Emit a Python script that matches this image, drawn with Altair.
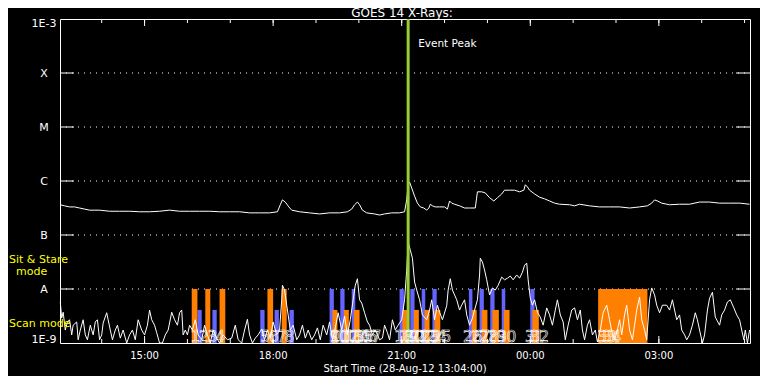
import altair as alt
import pandas as pd

# ---------------- data (time = minutes after 13:00 UT, 28-Aug-2012) ----------------
x_start, x_end = 1.6, 967.6
x_tick_vals = [120, 300, 480, 660, 840]
x_tick_labels = ["15:00", "18:00", "21:00", "00:00", "03:00"]
x_minor_vals = [60, 120, 180, 240, 300, 360, 420, 480, 540, 600, 660, 720, 780, 840, 900, 960]
x_title = "Start Time (28-Aug-12 13:04:00)"
chart_title = "GOES 14 X-Rays:"

y_min, y_max = 1e-9, 1e-3
y_mid_vals = [1e-8, 1e-7, 1e-6, 1e-5, 1e-4]
y_mid_labels = ["A", "B", "C", "M", "X"]
y_bottom_label = "1E-9"
y_top_label = "1E-3"

# GOES 1-8 A channel (log10 W/m^2)
long_t = [2, 8, 15, 22, 29, 36, 43, 50, 57, 71,
          85, 99, 113, 127, 141, 155, 169, 183, 197, 211,
          225, 239, 253, 267, 281, 295, 306, 310, 313, 317,
          322, 326, 337, 351, 365, 379, 393, 404, 410, 414,
          418, 421, 425, 431, 442, 449, 456, 466, 477, 484,
          487, 489, 491, 494, 498, 502, 506, 511, 515, 518,
          520, 523, 527, 533, 540, 544, 547, 550, 554, 561,
          568, 575, 583, 586, 592, 597, 603, 609, 614, 620,
          624, 631, 638, 645, 651, 653, 656, 659, 666, 673,
          680, 687, 694, 701, 715, 722, 729, 743, 757, 771,
          785, 799, 813, 824, 830, 834, 838, 844, 855, 869,
          883, 897, 911, 925, 939, 953, 967]
long_log = [-6.44, -6.46, -6.48, -6.48, -6.50, -6.52, -6.54, -6.54, -6.54, -6.56,
            -6.56, -6.56, -6.57, -6.57, -6.56, -6.54, -6.56, -6.56, -6.56, -6.56,
            -6.57, -6.57, -6.57, -6.59, -6.59, -6.59, -6.57, -6.44, -6.35, -6.39,
            -6.48, -6.54, -6.57, -6.59, -6.61, -6.59, -6.59, -6.57, -6.52, -6.44,
            -6.39, -6.44, -6.54, -6.59, -6.61, -6.63, -6.61, -6.59, -6.59, -6.57,
            -6.35, -6.07, -6.02, -6.13, -6.28, -6.41, -6.48, -6.50, -6.54, -6.50,
            -6.43, -6.46, -6.48, -6.48, -6.48, -6.52, -6.37, -6.41, -6.43, -6.46,
            -6.50, -6.50, -6.50, -6.20, -6.20, -6.22, -6.31, -6.37, -6.31, -6.24,
            -6.17, -6.17, -6.17, -6.20, -6.17, -6.07, -6.11, -6.17, -6.24, -6.30,
            -6.33, -6.37, -6.41, -6.43, -6.44, -6.46, -6.43, -6.46, -6.48, -6.48,
            -6.48, -6.50, -6.48, -6.46, -6.41, -6.35, -6.37, -6.41, -6.44, -6.43,
            -6.43, -6.39, -6.39, -6.41, -6.41, -6.41, -6.43]

# GOES 0.5-4 A channel (log10 W/m^2)
short_t = [2, 4, 6, 9, 12, 15, 18, 20, 25, 27,
           30, 34, 37, 40, 44, 48, 51, 54, 57, 60,
           62, 67, 69, 72, 75, 79, 82, 86, 90, 95,
           99, 103, 107, 111, 116, 120, 124, 127, 130, 134,
           137, 141, 145, 149, 153, 158, 162, 166, 169, 172,
           174, 177, 180, 183, 187, 191, 195, 200, 204, 208,
           212, 216, 221, 225, 230, 236, 242, 247, 251, 256,
           260, 264, 267, 271, 275, 279, 284, 288, 292, 296,
           300, 305, 309, 312, 313, 316, 319, 321, 324, 328,
           333, 337, 341, 345, 349, 354, 358, 362, 366, 370,
           375, 379, 383, 387, 391, 396, 400, 404, 408, 412,
           415, 418, 421, 424, 428, 432, 435, 439, 443, 449,
           453, 456, 460, 463, 467, 471, 475, 480, 484, 487,
           489, 492, 495, 498, 501, 505, 509, 515, 519, 522,
           526, 530, 533, 537, 543, 545, 548, 551, 554, 557,
           561, 564, 568, 571, 575, 579, 582, 586, 589, 590,
           593, 596, 599, 603, 607, 611, 615, 620, 624, 628,
           632, 636, 641, 645, 649, 652, 655, 657, 660, 663,
           666, 670, 674, 678, 683, 687, 691, 695, 698, 702,
           706, 709, 713, 718, 722, 726, 730, 733, 736, 740,
           743, 747, 751, 754, 758, 762, 767, 771, 775, 778,
           782, 785, 788, 792, 795, 799, 803, 806, 809, 813,
           816, 820, 823, 827, 830, 834, 837, 841, 845, 851,
           855, 859, 862, 865, 869, 872, 876, 879, 883, 887,
           891, 894, 897, 901, 904, 908, 911, 915, 919, 925,
           928, 932, 936, 940, 945, 949, 953, 956, 959, 961,
           964, 967]
short_log = [-8.24, -8.54, -8.43, -8.76, -8.61, -8.57, -8.85, -8.67, -8.61, -8.94,
             -8.76, -8.57, -8.85, -8.94, -8.67, -8.85, -8.61, -8.57, -8.94, -8.85,
             -8.63, -8.44, -8.57, -8.76, -8.94, -8.76, -8.67, -8.91, -8.76, -9.00,
             -8.85, -8.76, -8.94, -8.57, -8.76, -8.85, -8.67, -8.39, -8.57, -8.67,
             -8.81, -9.00, -9.00, -8.85, -8.76, -8.43, -8.57, -8.67, -8.44, -8.39,
             -8.85, -8.76, -8.85, -8.67, -8.76, -8.57, -8.85, -8.94, -8.67, -8.85,
             -9.00, -8.76, -8.91, -9.00, -8.85, -8.94, -8.91, -8.67, -8.94, -9.00,
             -8.76, -8.56, -8.85, -9.00, -8.91, -8.85, -8.74, -8.94, -8.76, -8.91,
             -8.61, -8.85, -8.76, -8.20, -7.93, -8.02, -8.30, -8.48, -8.76, -8.67,
             -8.94, -8.85, -8.67, -8.91, -8.76, -8.94, -8.85, -8.72, -8.94, -8.67,
             -8.85, -8.61, -8.94, -8.72, -8.44, -8.76, -8.50, -8.85, -8.57, -8.20,
             -7.93, -7.81, -8.20, -8.26, -8.44, -8.61, -8.67, -8.85, -8.76, -8.94,
             -8.91, -8.67, -8.81, -8.94, -8.57, -8.76, -8.67, -8.57, -8.20, -7.65,
             -7.13, -7.28, -7.43, -7.87, -8.02, -8.20, -8.48, -8.57, -8.39, -8.20,
             -8.57, -8.30, -8.43, -8.57, -8.31, -8.02, -7.81, -8.02, -8.11, -8.20,
             -8.39, -8.30, -8.20, -8.48, -8.67, -8.54, -8.39, -8.20, -7.74, -7.43,
             -7.50, -7.65, -7.83, -8.11, -7.98, -8.02, -7.93, -7.78, -7.83, -7.80,
             -7.76, -7.83, -7.74, -7.80, -7.69, -7.56, -7.52, -7.83, -8.17, -8.30,
             -8.20, -8.43, -8.52, -8.67, -8.35, -8.48, -8.67, -8.39, -8.20, -8.48,
             -8.61, -8.94, -8.67, -8.39, -8.35, -8.57, -8.39, -8.76, -8.94, -8.67,
             -8.57, -8.85, -8.76, -8.98, -8.76, -8.44, -8.30, -8.57, -8.85, -8.94,
             -8.76, -8.57, -8.85, -8.48, -8.30, -8.76, -8.94, -8.67, -8.39, -8.15,
             -8.57, -8.76, -8.94, -8.20, -7.98, -8.11, -8.30, -8.44, -8.30, -8.30,
             -8.39, -8.20, -8.39, -8.57, -8.48, -8.76, -8.85, -8.94, -8.85, -8.67,
             -8.44, -8.57, -8.76, -9.00, -8.85, -8.39, -8.17, -8.06, -8.52, -8.67,
             -8.48, -8.39, -8.24, -8.20, -8.35, -8.48, -8.57, -8.76, -8.94, -8.76,
             -9.00, -8.76]

# observation bars (start/end minutes)
orange_tall_start = [186, 205, 225, 292, 312, 755]
orange_tall_end = [194, 212, 233, 300, 319, 824]
blue_short_start = [194, 215, 282, 302, 323]
blue_short_end = [200, 221, 288, 308, 329]
blue_tall_start = [379, 394, 410, 477, 492, 508, 523, 574, 589, 604, 620, 660]
blue_tall_end = [385, 400, 415, 483, 498, 513, 529, 579, 595, 610, 625, 666]
orange_short_start = [383, 399, 413, 481, 497, 512, 526, 578, 592, 607, 623, 663]
orange_short_end = [390, 406, 421, 488, 504, 519, 534, 585, 600, 616, 631, 672]
tall_top = 1e-8
short_top = 4.1e-9

obs_t = [191, 203, 215, 226, 289, 301, 312, 323,
         386, 393, 400, 407, 414, 421, 427, 432, 438,
         483, 490, 498, 505, 513, 520, 529, 536,
         579, 590, 602, 613, 627, 666, 673, 767, 774]
obs_txt = ["1", "2", "3", "4", "5", "6", "7", "8",
           "9", "10", "11", "12", "13", "14", "15", "16", "17",
           "18", "19", "20", "21", "22", "23", "24", "25",
           "26", "27", "28", "29", "30", "31", "32", "33", "34"]

event_t = 489
event_label = "Event Peak"
mode_labels = ["Sit & Stare", "mode", "Scan mode"]

# ---------------- chart ----------------
FONT = "DejaVu Sans"
W, H = 690, 324
X = alt.Scale(domain=[x_start, x_end], nice=False, zero=False)
Y = alt.Scale(type="log", domain=[y_min, y_max], nice=False)


def xq(field="t"):
    return alt.X(f"{field}:Q", scale=X, axis=None)


def yq(field):
    return alt.Y(f"{field}:Q", scale=Y, axis=None)


long_df = pd.DataFrame({"t": long_t, "flux": [10 ** v for v in long_log]})
short_df = pd.DataFrame({"t": short_t, "flux": [10 ** v for v in short_log]})


def bars(starts, ends, top, color):
    df = pd.DataFrame({"start": starts, "end": ends, "top": [top] * len(starts),
                       "base": [y_min] * len(starts)})
    return alt.Chart(df).mark_rect(color=color).encode(
        x=xq("start"), x2="end:Q", y=yq("top"), y2="base:Q")


blue_s = bars(blue_short_start, blue_short_end, short_top, "#6464ff")
blue_t = bars(blue_tall_start, blue_tall_end, tall_top, "#6464ff")
orange_t = bars(orange_tall_start, orange_tall_end, tall_top, "#ff8000")
orange_s = bars(orange_short_start, orange_short_end, short_top, "#ff8000")

# dotted grid + inward ticks
grid_df = pd.DataFrame({"v": y_mid_vals, "lab": y_mid_labels})
grid = alt.Chart(grid_df).mark_rule(color="white", strokeDash=[1, 5], strokeWidth=1).encode(
    y=yq("v"), x=alt.value(0), x2=alt.value(W))
ytl = alt.Chart(grid_df).mark_rule(color="white").encode(
    y=yq("v"), x=alt.value(0), x2=alt.value(14))
ytr = alt.Chart(grid_df).mark_rule(color="white").encode(
    y=yq("v"), x=alt.value(W - 14), x2=alt.value(W))

xminor_df = pd.DataFrame({"t": x_minor_vals})
xmajor_df = pd.DataFrame({"t": x_tick_vals, "lab": x_tick_labels})
xt_top_minor = alt.Chart(xminor_df).mark_rule(color="white").encode(
    x=xq(), y=alt.value(0), y2=alt.value(4))
xt_bot_minor = alt.Chart(xminor_df).mark_rule(color="white").encode(
    x=xq(), y=alt.value(H), y2=alt.value(H - 4))
xt_top_major = alt.Chart(xmajor_df).mark_rule(color="white").encode(
    x=xq(), y=alt.value(0), y2=alt.value(7))
xt_bot_major = alt.Chart(xmajor_df).mark_rule(color="white").encode(
    x=xq(), y=alt.value(H), y2=alt.value(H - 7))

# tick labels drawn through the scales
ylab_mid = alt.Chart(grid_df).mark_text(
    align="center", baseline="alphabetic", dy=4, color="white", font=FONT, fontSize=11).encode(
    y=yq("v"), x=alt.value(-16), text="lab:N")
yend_df = pd.DataFrame({"v": [y_min, y_max], "lab": [y_bottom_label, y_top_label]})
ylab_bot = alt.Chart(yend_df.iloc[[0]]).mark_text(
    align="center", baseline="alphabetic", dy=0, color="white", font=FONT, fontSize=11).encode(
    y=yq("v"), x=alt.value(-16), text="lab:N")
ylab_top = alt.Chart(yend_df.iloc[[1]]).mark_text(
    align="center", baseline="alphabetic", dy=8, color="white", font=FONT, fontSize=11).encode(
    y=yq("v"), x=alt.value(-16), text="lab:N")
xlab = alt.Chart(xmajor_df).mark_text(
    align="center", baseline="alphabetic", color="white", font=FONT, fontSize=10).encode(
    x=xq(), y=alt.value(H + 16), text="lab:N")

texts_df = pd.DataFrame({"lab": [x_title, chart_title]})
xtitle = alt.Chart(texts_df.iloc[[0]]).mark_text(
    align="center", baseline="alphabetic", color="white", font=FONT, fontSize=10).encode(
    x=alt.value(W / 2), y=alt.value(H + 29), text="lab:N")
ctitle = alt.Chart(texts_df.iloc[[1]]).mark_text(
    align="center", baseline="alphabetic", color="white", font=FONT, fontSize=12).encode(
    x=alt.value(342), y=alt.value(-2), text="lab:N")

long_line = alt.Chart(long_df).mark_line(color="white", strokeWidth=1).encode(
    x=xq(), y=yq("flux"))
short_line = alt.Chart(short_df).mark_line(color="white", strokeWidth=1).encode(
    x=xq(), y=yq("flux"))

obs_df = pd.DataFrame({"t": obs_t, "txt": obs_txt, "base": [y_min] * len(obs_t)})
obs_text = alt.Chart(obs_df).mark_text(
    align="center", baseline="alphabetic", dy=-1, font=FONT, fontSize=15,
    fillOpacity=0, stroke="white", strokeWidth=0.6).encode(
    x=xq(), y=yq("base"), text="txt:N")

ev_df = pd.DataFrame({"t": [event_t], "label": [event_label]})
ev_rule = alt.Chart(ev_df).mark_rule(color="#9acd32", strokeWidth=3).encode(x=xq())
ev_text = alt.Chart(ev_df).mark_text(align="left", baseline="alphabetic", dx=10, color="white",
                                     font=FONT, fontSize=10.5).encode(
    x=xq(), y=alt.value(28), text="label:N")


def mode_text(label, xpix, ypix):
    return alt.Chart(pd.DataFrame({"label": [label]})).mark_text(
        align="left", baseline="alphabetic", color="#ffff00", font=FONT, fontSize=11).encode(
        x=alt.value(xpix), y=alt.value(ypix), text="label:N")


m1 = mode_text(mode_labels[0], -51, 244)
m2 = mode_text(mode_labels[1], -44, 256)
m3 = mode_text(mode_labels[2], -51, 308)

chart = alt.layer(
    grid, blue_s, blue_t, orange_t, orange_s,
    long_line, short_line, ev_rule, obs_text,
    ytl, ytr, xt_top_minor, xt_bot_minor, xt_top_major, xt_bot_major,
    ylab_mid, ylab_bot, ylab_top, xlab, xtitle, ctitle,
    ev_text, m1, m2, m3,
).properties(
    width=W, height=H,
    padding={"left": 52, "top": 11, "right": 10, "bottom": 33},
    autosize=alt.AutoSizeParams(type="none"),
    background="black",
    usermeta={"embedOptions": {"defaultStyle": "html,body{background:#000;overflow:hidden}"}},
).configure_view(stroke="white", strokeWidth=1)

chart.save("out.html", embed_options={"renderer": "svg", "actions": False})
